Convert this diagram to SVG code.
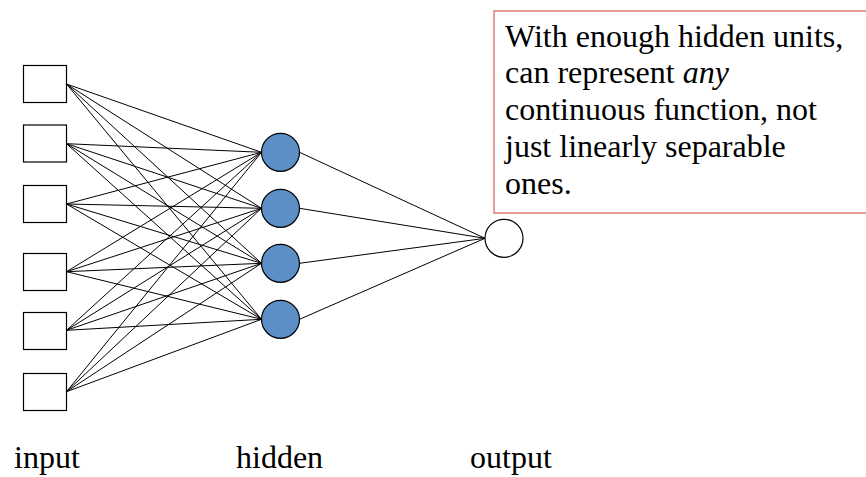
<svg xmlns="http://www.w3.org/2000/svg" width="866" height="477" viewBox="0 0 866 477">
<style>
.inp{fill:#fff;stroke:#000;stroke-width:1.2}
.hid{fill:#5b8fc5;stroke:#000;stroke-width:1.2}
.out{fill:#fff;stroke:#000;stroke-width:1.2}
.conn line{stroke:#000;stroke-width:1}
.t{font-family:'Liberation Serif','Times New Roman',serif;font-size:32px;fill:#000}
</style>
<rect width="866" height="477" fill="#fff"/>
<g id="connectors" class="conn">
<line x1="66.5" y1="84" x2="261.5" y2="152.3"/>
<line x1="66.5" y1="84" x2="261.5" y2="208.3"/>
<line x1="66.5" y1="84" x2="261.5" y2="263.3"/>
<line x1="66.5" y1="84" x2="261.5" y2="319.3"/>
<line x1="66.5" y1="143.7" x2="261.5" y2="152.3"/>
<line x1="66.5" y1="143.7" x2="261.5" y2="208.3"/>
<line x1="66.5" y1="143.7" x2="261.5" y2="263.3"/>
<line x1="66.5" y1="143.7" x2="261.5" y2="319.3"/>
<line x1="66.5" y1="204" x2="261.5" y2="152.3"/>
<line x1="66.5" y1="204" x2="261.5" y2="208.3"/>
<line x1="66.5" y1="204" x2="261.5" y2="263.3"/>
<line x1="66.5" y1="204" x2="261.5" y2="319.3"/>
<line x1="66.5" y1="271.7" x2="261.5" y2="152.3"/>
<line x1="66.5" y1="271.7" x2="261.5" y2="208.3"/>
<line x1="66.5" y1="271.7" x2="261.5" y2="263.3"/>
<line x1="66.5" y1="271.7" x2="261.5" y2="319.3"/>
<line x1="66.5" y1="330.3" x2="261.5" y2="152.3"/>
<line x1="66.5" y1="330.3" x2="261.5" y2="208.3"/>
<line x1="66.5" y1="330.3" x2="261.5" y2="263.3"/>
<line x1="66.5" y1="330.3" x2="261.5" y2="319.3"/>
<line x1="66.5" y1="391.7" x2="261.5" y2="152.3"/>
<line x1="66.5" y1="391.7" x2="261.5" y2="208.3"/>
<line x1="66.5" y1="391.7" x2="261.5" y2="263.3"/>
<line x1="66.5" y1="391.7" x2="261.5" y2="319.3"/>
<line x1="299.5" y1="152.3" x2="485" y2="238.3"/>
<line x1="299.5" y1="208.3" x2="485" y2="238.3"/>
<line x1="299.5" y1="263.3" x2="485" y2="238.3"/>
<line x1="299.5" y1="319.3" x2="485" y2="238.3"/>
</g>
<g id="input1"><rect class="inp" x="23.5" y="65.5" width="43" height="37"/></g>
<g id="input2"><rect class="inp" x="23.5" y="125" width="43" height="37"/></g>
<g id="input3"><rect class="inp" x="23.5" y="185.5" width="43" height="37"/></g>
<g id="input4"><rect class="inp" x="23.5" y="253.5" width="43" height="37"/></g>
<g id="input5"><rect class="inp" x="23.5" y="312.5" width="43" height="37"/></g>
<g id="input6"><rect class="inp" x="23.5" y="373.5" width="43" height="37"/></g>
<g id="hidden1"><circle class="hid" cx="280.5" cy="152.3" r="19"/></g>
<g id="hidden2"><circle class="hid" cx="280.5" cy="208.3" r="19"/></g>
<g id="hidden3"><circle class="hid" cx="280.5" cy="263.3" r="19"/></g>
<g id="hidden4"><circle class="hid" cx="280.5" cy="319.3" r="19"/></g>
<g id="output"><circle class="out" cx="504" cy="238.3" r="19"/></g>
<g id="note">
<rect x="494" y="11" width="400" height="202" fill="#fff" stroke="#e07b7b" stroke-width="1.5"/>
<text class="t" x="505" y="46.5">With enough hidden units,</text>
<text class="t" x="505" y="83">can represent <tspan font-style="italic">any</tspan></text>
<text class="t" x="505" y="120">continuous function, not</text>
<text class="t" x="505" y="157">just linearly separable</text>
<text class="t" x="505" y="193.5">ones.</text>
</g>
<g id="labels">
<text class="t" x="14" y="468">input</text>
<text class="t" x="236" y="468">hidden</text>
<text class="t" x="470" y="468">output</text>
</g>
</svg>
